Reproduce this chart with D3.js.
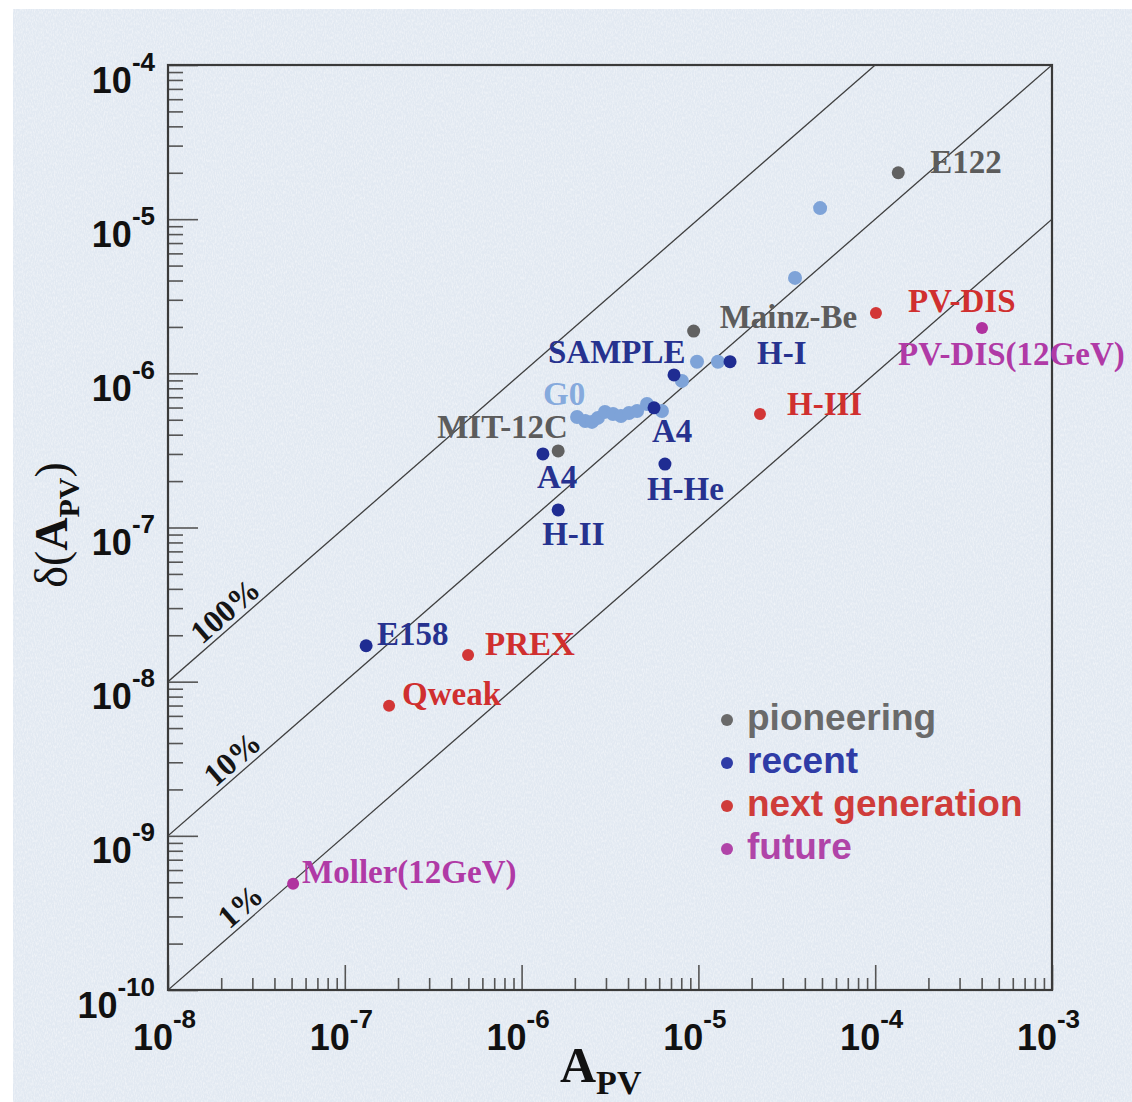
<!DOCTYPE html>
<html>
<head>
<meta charset="utf-8">
<script src="https://cdn.jsdelivr.net/npm/d3@7"></script>
<style>
  html, body { margin: 0; padding: 0; background: #ffffff; }
  svg { display: block; }
</style>
</head>
<body>
<svg id="chart" width="1132" height="1102"></svg>
<script>
// ---------------- DATA ----------------
const experiments = ["E122", "Mainz-Be", "MIT-12C", "SAMPLE", "H-I", "A4", "A4", "H-He", "H-II", "E158", "PREX", "Qweak", "H-III", "PV-DIS", "PV-DIS(12GeV)", "Moller(12GeV)"];
const groups      = ["pioneering", "pioneering", "pioneering", "recent", "recent", "recent", "recent", "recent", "recent", "recent", "next", "next", "next", "next", "future", "future"];
const apv         = [1.35e-4, 9.4e-6, 1.61e-6, 7.28e-6, 1.51e-5, 5.61e-6, 1.32e-6, 6.47e-6, 1.61e-6, 1.32e-7, 4.98e-7, 1.78e-7, 2.23e-5, 1.01e-4, 4.02e-4, 5.1e-8];
const dapv        = [2.0e-5, 1.88e-6, 3.14e-7, 9.77e-7, 1.19e-6, 5.97e-7, 3.0e-7, 2.58e-7, 1.30e-7, 1.71e-8, 1.49e-8, 6.97e-9, 5.45e-7, 2.46e-6, 1.97e-6, 4.89e-10];

// G0 series (light blue)
const g0Apv  = [2.06e-6, 2.29e-6, 2.50e-6, 2.70e-6, 2.96e-6, 3.29e-6, 3.65e-6, 4.05e-6, 4.50e-6, 5.12e-6, 6.22e-6, 8.07e-6, 9.82e-6, 1.29e-5, 3.52e-5, 4.88e-5];
const g0Dapv = [5.21e-7, 4.91e-7, 4.84e-7, 5.14e-7, 5.62e-7, 5.45e-7, 5.29e-7, 5.53e-7, 5.70e-7, 6.33e-7, 5.70e-7, 8.93e-7, 1.19e-6, 1.19e-6, 4.16e-6, 1.18e-5];

// relative precision lines
const precisionFractions = [1, 0.1, 0.01];
const precisionLabels = ["100%", "10%", "1%"];

// legend
const legendKeys = ["pioneering", "recent", "next", "future"];
const legendLabels = ["pioneering", "recent", "next generation", "future"];

// axis ticks
const xDecades = [1e-8, 1e-7, 1e-6, 1e-5, 1e-4, 1e-3];
const xExponents = ["-8", "-7", "-6", "-5", "-4", "-3"];
const yDecades = [1e-10, 1e-9, 1e-8, 1e-7, 1e-6, 1e-5, 1e-4];
const yExponents = ["-10", "-9", "-8", "-7", "-6", "-5", "-4"];

// ---------------- STYLE / LAYOUT ----------------
const dotColor = { pioneering: "#616161", recent: "#1f2c92", next: "#d23636", future: "#b0329f", g0: "#7ea3d8" };
const textColor = { pioneering: "#5c5c5c", recent: "#26328f", next: "#d02f2f", future: "#b03aa6", g0: "#86aadd" };
const legendColor = { pioneering: "#6a6a6a", recent: "#2f3ca6", next: "#cf3c3a", future: "#b044a8" };
// label offsets (dx, dy) in px from the point
const labelOffsets = [[32, 0], [26, -3], [-121, -13], [-126, -12], [27, 2], [-2, 34], [-6, 34], [-18, 36], [-16, 35], [11, -1], [17, 0], [13, -1], [27, 1], [32, -1], [-84, 37], [9, -1]];
const g0LabelOffset = [-34, -12];
const precisionLabelAt = [2.41e-8, 2.64e-8, 2.93e-8];

const W = 1132, H = 1102;
const M = { left: 168, top: 65, right: 1052, bottom: 990 };

const svg = d3.select("#chart");

// background (paper)
svg.append("rect").attr("x", 0).attr("y", 0).attr("width", W).attr("height", H).attr("fill", "#ffffff");
const defs = svg.append("defs");
const f = defs.append("filter").attr("id", "paper").attr("x", 0).attr("y", 0).attr("width", "100%").attr("height", "100%");
f.append("feTurbulence").attr("type", "fractalNoise").attr("baseFrequency", "0.9 0.35").attr("numOctaves", 2).attr("seed", 3).attr("result", "n");
f.append("feColorMatrix").attr("in", "n").attr("type", "matrix")
  .attr("values", "0 0 0 0 1  0 0 0 0 1  0 0 0 0 1  0 0 0 -0.9 0.55").attr("result", "w");
f.append("feComposite").attr("in", "w").attr("in2", "SourceGraphic").attr("operator", "in").attr("result", "wm");
f.append("feMerge").call(m => { m.append("feMergeNode").attr("in", "SourceGraphic"); m.append("feMergeNode").attr("in", "wm"); });
svg.append("rect").attr("x", 13).attr("y", 9).attr("width", W - 13).attr("height", H - 9)
  .attr("fill", "#e2e9f2").attr("filter", "url(#paper)");

const x = d3.scaleLog().domain([1e-8, 1e-3]).range([M.left, M.right]);
const y = d3.scaleLog().domain([1e-10, 1e-4]).range([M.bottom, M.top]);

// minor tick values
const minorX = [], minorY = [];
xDecades.slice(0, -1).forEach(d => { for (let k = 2; k <= 9; k++) minorX.push(d * k); });
yDecades.slice(0, -1).forEach(d => { for (let k = 2; k <= 9; k++) minorY.push(d * k); });

// ---- axes ----
const gxMinor = svg.append("g").attr("transform", `translate(0,${M.bottom})`)
  .call(d3.axisBottom(x).tickValues(minorX).tickSize(-12).tickFormat(""));
const gxMajor = svg.append("g").attr("transform", `translate(0,${M.bottom})`)
  .call(d3.axisBottom(x).tickValues(xDecades).tickSize(-25).tickFormat(""));
const gyMinor = svg.append("g").attr("transform", `translate(${M.left},0)`)
  .call(d3.axisLeft(y).tickValues(minorY).tickSize(-15).tickFormat(""));
const gyMajor = svg.append("g").attr("transform", `translate(${M.left},0)`)
  .call(d3.axisLeft(y).tickValues(yDecades).tickSize(-30).tickFormat(""));
[gxMinor, gxMajor, gyMinor, gyMajor].forEach(g => {
  g.select(".domain").remove();
  g.selectAll(".tick line").attr("stroke", "#555").attr("stroke-width", 1.6);
});

// tick labels
gxMajor.selectAll(".tick").each(function(d, i) {
  const t = d3.select(this).append("text")
    .attr("x", -4).attr("y", 60).attr("text-anchor", "middle")
    .attr("fill", "#111").attr("font-family", "'Liberation Sans', Arial, sans-serif")
    .attr("font-weight", "bold").attr("font-size", 36);
  t.append("tspan").text("10");
  t.append("tspan").attr("dy", -22).attr("font-size", 26).text(xExponents[i]);
});
gyMajor.selectAll(".tick").each(function(d, i) {
  const t = d3.select(this).append("text")
    .attr("x", -13).attr("y", 27).attr("text-anchor", "end")
    .attr("fill", "#111").attr("font-family", "'Liberation Sans', Arial, sans-serif")
    .attr("font-weight", "bold").attr("font-size", 36);
  t.append("tspan").text("10");
  t.append("tspan").attr("dy", -22).attr("font-size", 26).text(yExponents[i]);
});

// frame
svg.append("rect").attr("x", M.left).attr("y", M.top)
  .attr("width", M.right - M.left).attr("height", M.bottom - M.top)
  .attr("fill", "none").attr("stroke", "#3a3a3a").attr("stroke-width", 2.2);

// ---- precision lines ----
const clip = defs.append("clipPath").attr("id", "plotclip");
clip.append("rect").attr("x", M.left).attr("y", M.top).attr("width", M.right - M.left).attr("height", M.bottom - M.top);
const lineG = svg.append("g").attr("clip-path", "url(#plotclip)");
const line = d3.line().x(d => x(d[0])).y(d => y(d[1]));
precisionFractions.forEach(fr => {
  lineG.append("path")
    .datum([[1e-8, 1e-8 * fr], [1e-3, 1e-3 * fr]])
    .attr("d", line).attr("fill", "none").attr("stroke", "#3f3f3f").attr("stroke-width", 1.3);
});
const angle = Math.atan2(y(1e-5) - y(1e-6), x(1e-5) - x(1e-6)) * 180 / Math.PI;
precisionFractions.forEach((fr, i) => {
  const a = precisionLabelAt[i];
  svg.append("text")
    .attr("transform", `translate(${x(a)},${y(a * fr)}) rotate(${angle})`)
    .attr("dy", -5).attr("text-anchor", "middle")
    .attr("font-family", "'Liberation Serif', 'Times New Roman', serif")
    .attr("font-weight", "bold").attr("font-size", 32).attr("fill", "#151515")
    .text(precisionLabels[i]);
});

// ---- data points ----
const serif = "'Liberation Serif', 'Times New Roman', serif";
const g0Data = g0Apv.map((a, i) => ({ a, d: g0Dapv[i] }));
svg.append("g").selectAll("circle").data(g0Data).join("circle")
  .attr("cx", d => x(d.a)).attr("cy", d => y(d.d)).attr("r", 7)
  .attr("fill", dotColor.g0);
svg.append("text")
  .attr("x", x(g0Apv[0]) + g0LabelOffset[0]).attr("y", y(g0Dapv[0]) + g0LabelOffset[1])
  .attr("font-family", serif).attr("font-weight", "bold").attr("font-size", 33)
  .attr("fill", textColor.g0).text("G0");

const pts = experiments.map((n, i) => ({ n, g: groups[i], a: apv[i], d: dapv[i], off: labelOffsets[i] }));
svg.append("g").selectAll("circle").data(pts).join("circle")
  .attr("cx", d => x(d.a)).attr("cy", d => y(d.d))
  .attr("r", d => d.g === "pioneering" || d.g === "recent" ? 6.5 : 6)
  .attr("fill", d => dotColor[d.g]);
svg.append("g").selectAll("text").data(pts).join("text")
  .attr("x", d => x(d.a) + d.off[0]).attr("y", d => y(d.d) + d.off[1])
  .attr("font-family", serif).attr("font-weight", "bold").attr("font-size", 33)
  .attr("fill", d => textColor[d.g]).text(d => d.n);

// ---- legend ----
const lg = svg.append("g").attr("transform", "translate(727,720)");
legendKeys.forEach((k, i) => {
  const row = lg.append("g").attr("transform", `translate(0,${i * 43})`);
  row.append("circle").attr("cx", 0).attr("cy", 0).attr("r", 6).attr("fill", legendColor[k]);
  row.append("text").attr("x", 20).attr("y", 10)
    .attr("font-family", "'Liberation Sans', Arial, sans-serif").attr("font-weight", "bold")
    .attr("font-size", 37).attr("fill", legendColor[k]).text(legendLabels[i]);
});

// ---- axis titles ----
const xt = svg.append("text").attr("x", 560).attr("y", 1082)
  .attr("font-family", serif).attr("font-weight", "bold").attr("font-size", 50).attr("fill", "#111");
xt.append("tspan").text("A");
xt.append("tspan").attr("dy", 12).attr("font-size", 34).text("PV");

const yt = svg.append("text").attr("transform", "translate(67,525) rotate(-90)")
  .attr("text-anchor", "middle")
  .attr("font-family", serif).attr("font-size", 46).attr("fill", "#111");
yt.append("tspan").text("δ(");
yt.append("tspan").attr("font-weight", "bold").text("A");
yt.append("tspan").attr("dy", 12).attr("font-size", 30).attr("font-weight", "bold").text("PV");
yt.append("tspan").attr("dy", -12).text(")");
</script>
</body>
</html>
